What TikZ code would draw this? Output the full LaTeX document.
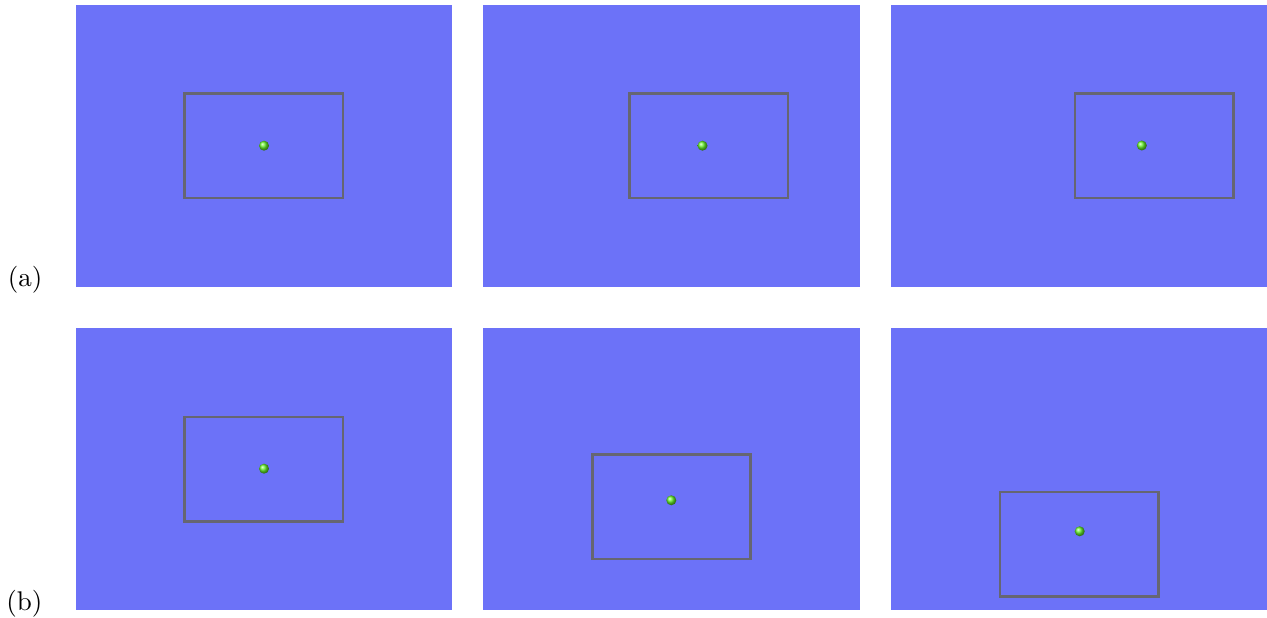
\documentclass[tikz,border=0pt]{standalone}
\definecolor{panelblue}{RGB}{108,114,248}
\definecolor{framegray}{RGB}{102,102,114}
\definecolor{ballgreen}{RGB}{100,240,40}
\begin{document}
\begin{tikzpicture}[x=0.37pt,y=-0.37pt,
  panel/.style={rectangle, fill=panelblue, minimum width=376*0.37pt, minimum height=282*0.37pt, inner sep=0pt, outer sep=0pt},
  frame/.style={rectangle, draw=framegray, line width=2.7*0.37pt, minimum width=158.3*0.37pt, minimum height=104.3*0.37pt, inner sep=0pt},
  ball/.style={circle, shading=ball, ball color=ballgreen, minimum size=10*0.37pt, inner sep=0pt},
  lbl/.style={anchor=base east, inner sep=0pt}]
\useasboundingbox (0,0) rectangle (1267,618);
% row (a)
\node[panel] (pa1) at (264,146) {};
\node[panel, minimum width=377*0.37pt] (pa2) at (671.5,146) {};
\node[panel] (pa3) at (1079,146) {};
\node[frame] (fa1) at (263.8,145.8) {};
\node[frame] (fa2) at (708.8,145.9) {};
\node[frame] (fa3) at (1154.2,146) {};
\node[ball] (ba1) at (264,145.7) {};
\node[ball] (ba2) at (702.5,145.7) {};
\node[ball] (ba3) at (1141.8,145.5) {};
\node[lbl] (la) at (43,287) {(a)};
% row (b)
\node[panel] (pb1) at (264,469) {};
\node[panel, minimum width=377*0.37pt] (pb2) at (671.5,469) {};
\node[panel] (pb3) at (1079,469) {};
\node[frame] (fb1) at (263.8,469.3) {};
\node[frame] (fb2) at (671.3,506.7) {};
\node[frame] (fb3) at (1079.2,544) {};
\node[ball] (bb1) at (264,468.7) {};
\node[ball] (bb2) at (671.3,500.3) {};
\node[ball] (bb3) at (1079.7,531.3) {};
\node[lbl] (lb) at (43,610) {(b)};
\end{tikzpicture}
\end{document}
